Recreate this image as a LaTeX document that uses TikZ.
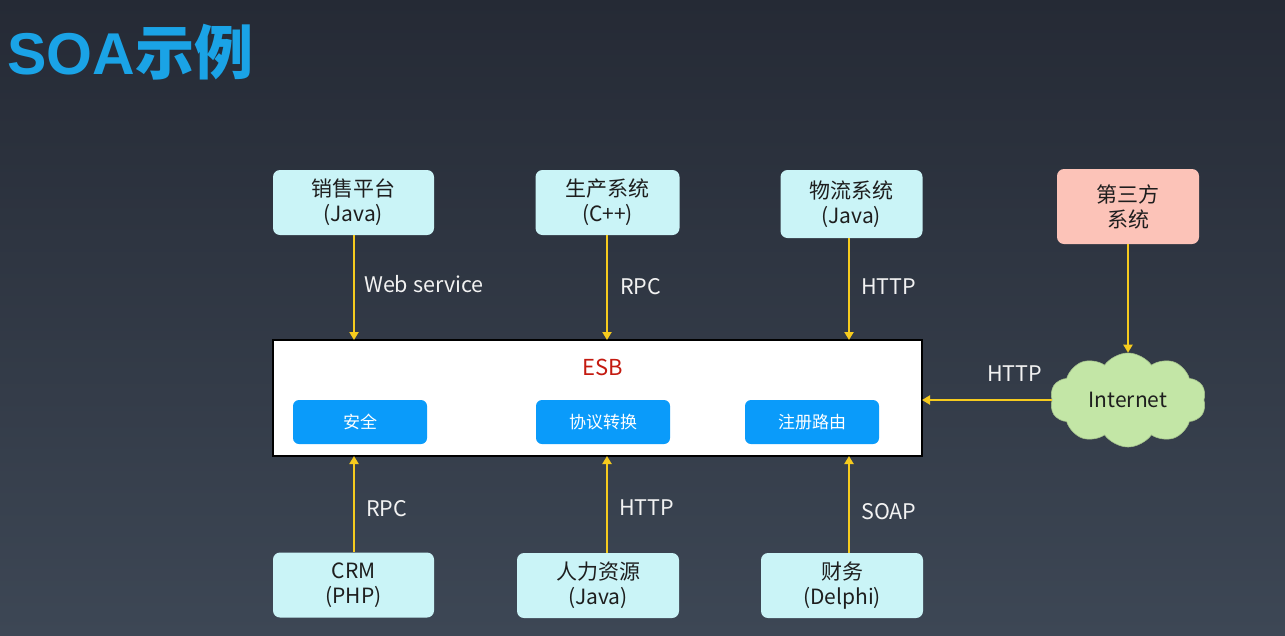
\documentclass[tikz,border=0pt]{standalone}
\usepackage{fontspec}
\setmainfont{Noto Sans CJK SC}
\newfontfamily\latinbold{Liberation Sans}
\usetikzlibrary{arrows.meta,shapes.symbols}
\definecolor{bgtop}{HTML}{252A35}
\definecolor{bgbot}{HTML}{3D4755}
\definecolor{sysfill}{HTML}{CAF4F7}
\definecolor{thirdfill}{HTML}{FCC3B8}
\definecolor{cloudfill}{HTML}{C3E6A6}
\definecolor{modfill}{HTML}{0A9BFA}
\definecolor{arrowcol}{HTML}{F6CB1E}
\definecolor{titlecol}{HTML}{1AA3E6}
\definecolor{esbred}{HTML}{C41A10}
\definecolor{txt}{HTML}{1E1E1E}
\definecolor{lbl}{HTML}{F2F2F2}
\begin{document}
\begin{tikzpicture}[x=1pt,y=-1pt,
  sysbox/.style={draw=none,fill=sysfill,rounded corners=7pt,minimum width=161pt,minimum height=65pt,
    align=center,text=txt,font=\fontsize{21}{25}\selectfont,inner sep=0pt},
  modbox/.style={draw=none,fill=modfill,rounded corners=6pt,minimum width=134pt,minimum height=44pt,
    text=white,font=\fontsize{17}{20}\selectfont,inner sep=0pt},
  conn/.style={draw=arrowcol,line width=2.3pt,-{Triangle[width=9pt,length=8pt]}},
  lab/.style={text=lbl,font=\fontsize{21.5}{24}\selectfont,anchor=west,inner sep=0pt}]
\shade[top color=bgtop,bottom color=bgbot] (0,0) rectangle (1285,635);
\useasboundingbox (0,0) rectangle (1285,635);
\node[anchor=west,text=titlecol,font=\fontsize{59}{62}\selectfont\bfseries,inner sep=0pt] (title) at (7,52) {{\latinbold\bfseries SOA}示例};
% top systems
\node[sysbox] (sales) at (353.5,202.5) {销售平台\\(Java)};
\node[sysbox,minimum width=144pt] (prod) at (607.5,202.5) {生产系统\\(C++)};
\node[sysbox,minimum width=142pt,minimum height=68pt] (logi) at (851.5,204) {物流系统\\(Java)};
\node[sysbox,fill=thirdfill,minimum width=142pt,minimum height=75pt] (third) at (1128,206.5) {第三方\\系统};
% ESB
\node[draw=black,line width=1.6pt,fill=white,minimum width=649pt,minimum height=116pt,inner sep=0pt] (esb) at (597.5,398) {};
\node[text=esbred,font=\fontsize{22}{26}\selectfont,inner sep=0pt] (esbt) at (603,367) {ESB};
\node[modbox] (sec) at (360,422) {安全};
\node[modbox] (proto) at (603,422) {协议转换};
\node[modbox] (reg) at (812,422) {注册路由};
% bottom systems
\node[sysbox] (crm) at (353.5,585) {CRM\\(PHP)};
\node[sysbox,minimum width=162pt] (hr) at (598,585.5) {人力资源\\(Java)};
\node[sysbox,minimum width=162pt] (fin) at (842,585.5) {财务\\(Delphi)};
% cloud
\node[cloud,cloud puffs=10,cloud puff arc=110,aspect=1.65,fill=cloudfill,draw=cloudfill!85!black,line width=0.6pt,
  minimum width=156pt,minimum height=94pt,inner sep=0pt,text=txt,font=\fontsize{21}{24}\selectfont] (net) at (1128,400) {Internet};
% coordinates on ESB edges
\coordinate (e1) at (354,340);
\coordinate (e2) at (607,340);
\coordinate (e3) at (849,340);
\coordinate (b1) at (354,456);
\coordinate (b2) at (607,456);
\coordinate (b3) at (849,456);
\coordinate (er) at (922,400);
\draw[conn] (sales.south -| e1) -- (e1);
\draw[conn] (prod.south -| e2) -- (e2);
\draw[conn] (logi.south -| e3) -- (e3);
\draw[conn] (crm.north -| b1) -- (b1);
\draw[conn] (hr.north -| b2) -- (b2);
\draw[conn] (fin.north -| b3) -- (b3);
\draw[conn] (third.south) -- (net.north);
\draw[conn] (net.west |- er) -- (er);
% labels
\node[lab] (l1) at (364,284) {Web service};
\node[lab] (l2) at (620,287) {RPC};
\node[lab] (l3) at (861,287) {HTTP};
\node[lab] (l4) at (366,509) {RPC};
\node[lab] (l5) at (619,508) {HTTP};
\node[lab] (l6) at (861,512) {SOAP};
\node[lab] (l7) at (987,374) {HTTP};
\end{tikzpicture}
\end{document}
